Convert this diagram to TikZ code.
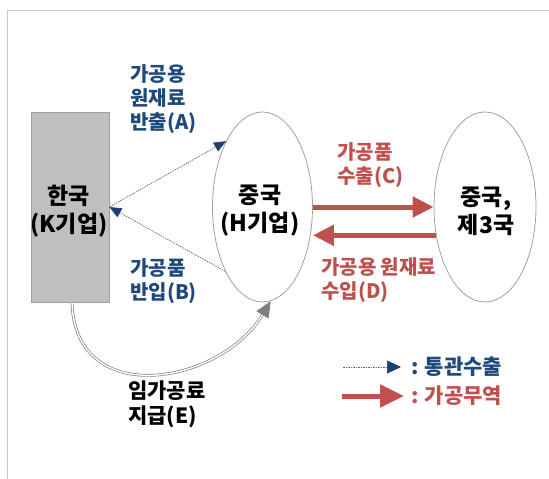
\documentclass[tikz,border=0pt]{standalone}
\usepackage{fontspec}
\setmainfont{Noto Sans CJK KR}
\usetikzlibrary{arrows.meta,shapes.geometric}
\definecolor{navytxt}{HTML}{1F497D}
\definecolor{navytip}{HTML}{1F3E72}
\definecolor{dotline}{HTML}{5A6B85}
\definecolor{redtr}{HTML}{C0504D}
\definecolor{boxfill}{HTML}{BFBFBF}
\definecolor{edgegray}{HTML}{A0A0A0}
\definecolor{framegray}{HTML}{C8C8C8}
\tikzset{
  mainbox/.style={draw=edgegray, fill=boxfill, line width=0.8pt, minimum width=78pt, minimum height=190pt, inner sep=0pt},
  ellnode/.style={draw=edgegray, ellipse, line width=0.8pt, minimum width=100pt, minimum height=190pt, inner sep=0pt},
  bigtxt/.style={font=\bfseries\fontsize{23}{28}\selectfont, align=center, inner sep=0pt},
  bluetxt/.style={font=\bfseries\fontsize{20}{24}\selectfont, text=navytxt, align=left, inner sep=0pt, anchor=west},
  redtxt/.style={font=\bfseries\fontsize{20}{24.5}\selectfont, text=redtr, align=left, inner sep=0pt, anchor=west},
  blktxt/.style={font=\bfseries\fontsize{21}{25}\selectfont, align=left, inner sep=0pt, anchor=west},
  legtxt/.style={font=\bfseries\fontsize{21}{25}\selectfont, inner sep=0pt, anchor=west},
  customs/.style={draw=dotline, line width=0.7pt, dash pattern=on 1.5pt off 1pt, -{Triangle[length=12pt,width=10pt,fill=navytip,color=navytip]}},
  processing/.style={draw=redtr, line width=5pt, -{Triangle[length=21pt,width=20pt]}},
  feeflow/.style={draw=gray, line width=0.7pt, double=white, double distance=1.4pt, -{Triangle[length=16pt,width=14pt,fill=gray]}},
}
\begin{document}
\begin{tikzpicture}[x=1pt,y=-1pt]
\useasboundingbox (0,0) rectangle (549,479);
% frame
\draw[framegray, line width=1pt] (7,479) -- (7,10) -- (549,10);
% main shapes
\node[mainbox] (kor) at (70,207) {};
\node[ellnode] (chn) at (262.5,207) {};
\node[ellnode, minimum width=102pt] (rt) at (485,207) {};
\node[bigtxt] (kortxt) at (69,211) {한국\\(K기업)};
\node[bigtxt] (chntxt) at (260,211) {중국\\(H기업)};
\node[bigtxt] (rttxt) at (486,211) {중국,\\제3국};
% customs arrows
\draw[customs] (kor.east) -- (chn.119);
\draw[customs] (chn.240) -- (kor.east);
% processing trade arrows
\draw[processing] (chn.east) -- (rt.west);
\draw[processing] (rt.210) -- (rt.210 -| chn.east);
% fee curve
\draw[feeflow] ([xshift=2pt]kor.south) .. controls (75,410) and (220,385) .. (chn.-85);
% labels
\node[bluetxt] (la) at (130,99) {가공용\\원재료\\반출(A)};
\node[bluetxt] (lb) at (130,281) {가공품\\반입(B)};
\node[redtxt] (lc) at (337,165) {가공품\\수출(C)};
\node[redtxt] (ld) at (321,280) {가공용 원재료\\수입(D)};
\node[blktxt] (le) at (128,404.5) {임가공료\\지급(E)};
% legend
\coordinate (lg1s) at (343,367);
\coordinate (lg1e) at (401,367);
\coordinate (lg2s) at (342,396);
\coordinate (lg2e) at (404,396);
\draw[customs, -{Triangle[length=14pt,width=13pt,fill=navytip,color=navytip]}] (lg1s) -- (lg1e);
\draw[processing, -{Triangle[length=24pt,width=22pt]}] (lg2s) -- (lg2e);
\node[legtxt, text=navytxt] (lt1) at (411,367) {: 통관수출};
\node[legtxt, text=redtr] (lt2) at (411,396) {: 가공무역};
\end{tikzpicture}
\end{document}
